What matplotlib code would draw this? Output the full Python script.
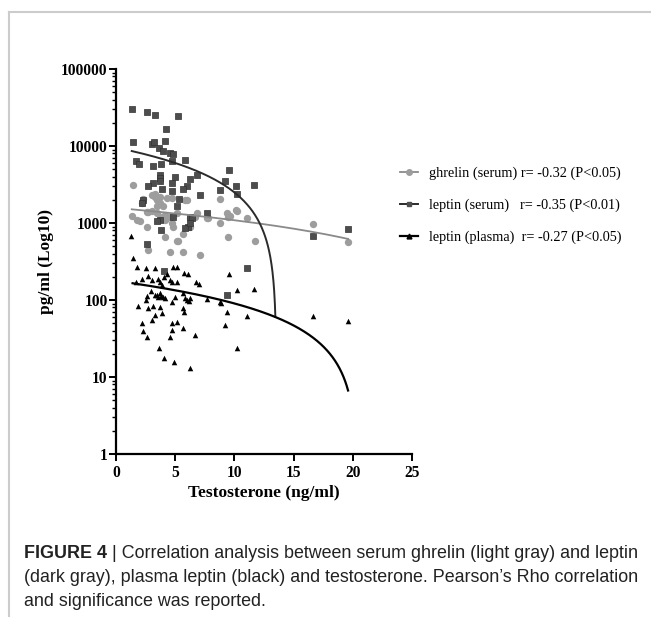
import numpy as np
import matplotlib.pyplot as plt
from matplotlib.lines import Line2D

# values (testosterone ng/ml, pg/ml)
ghrelin_x = [1.47, 1.33, 1.75, 2.03, 2.31, 2.17, 2.6, 2.73, 3.02, 3.3, 3.44, 2.6,
             3.02, 3.44, 3.72, 4.0, 3.86, 4.14, 4.14, 4.56, 4.7, 4.7, 4.85, 5.13,
             5.2, 5.69, 5.63, 5.83, 5.98, 6.26, 6.82, 6.68, 7.1, 7.66, 8.79, 8.79,
             9.44, 9.64, 9.44, 10.25, 11.1, 11.7, 16.6, 19.6, 3.3, 3.72, 4.28, 3.44,
             4.14, 4.56, 6.26, 7.8, 9.36, 10.14, 2.73, 5.18]
ghrelin_y = [3100, 1250, 1080, 1070, 2080, 1800, 890, 445, 2300, 2200, 2000, 1400,
             1450, 1340, 1800, 1650, 1200, 1080, 660, 420, 2100, 1000, 890, 1340,
             590, 420, 730, 1960, 2000, 890, 1340, 1200, 385, 1150, 2050, 1000,
             1200, 1250, 660, 1450, 1150, 590, 980, 570, 2400, 2200, 2100, 1650,
             1270, 1200, 1150, 1150, 1340, 1470, 1400, 590]

leptin_serum_x = [1.33, 2.6, 3.3, 5.2, 4.25, 1.47, 3.05, 3.24, 4.17, 3.63, 3.95, 4.56,
                  4.79, 5.8, 1.69, 1.92, 3.13, 3.8, 4.7, 9.58, 6.82, 6.26, 3.72, 3.72,
                  3.72, 4.99, 4.7, 9.19, 3.15, 2.73, 3.86, 5.98, 5.63, 10.14, 10.25,
                  11.67, 8.79, 4.76, 7.1, 5.36, 2.31, 2.2, 5.18, 7.66, 6.26, 3.72,
                  6.1, 5.83, 3.78, 2.65, 6.4, 6.26, 4.85, 3.44, 16.6, 19.6, 11.1,
                  9.41, 4.06]
leptin_serum_y = [30200, 27600, 25500, 24700, 16600, 11400, 10500, 11400, 11600, 9300,
                  8700, 8000, 7900, 6500, 6300, 5800, 5500, 5800, 6400, 4950, 4200,
                  3700, 4200, 3800, 3500, 3900, 3300, 3500, 3300, 3000, 2800, 3000,
                  2750, 3000, 2400, 3100, 2700, 2600, 2300, 2050, 2000, 1800, 1670,
                  1340, 1200, 1100, 890, 860, 810, 530, 1150, 1000, 1200, 1070, 680,
                  830, 260, 116, 240]

leptin_plasma_x = [1.24, 1.47, 1.75, 2.54, 3.3, 4.79, 5.13, 5.75, 6.1, 1.66, 2.17, 2.73,
                   3.02, 3.58, 4.06, 4.28, 4.56, 4.7, 5.13, 3.72, 3.86, 6.76, 7.04, 9.58,
                   10.2, 11.67, 2.6, 2.96, 3.3, 3.58, 3.72, 4.0, 4.14, 4.7, 4.99, 5.69,
                   5.83, 5.98, 6.26, 7.66, 8.79, 9.41, 9.21, 10.25, 11.1, 16.6, 19.6,
                   1.89, 2.54, 2.73, 3.15, 3.3, 3.72, 3.86, 2.17, 2.31, 2.6, 3.02, 4.7,
                   4.7, 4.56, 5.18, 5.63, 5.63, 5.77, 6.68, 3.64, 4.06, 4.9, 6.26, 3.5,
                   3.8, 6.2, 8.9]
leptin_plasma_y = [680, 350, 265, 260, 260, 265, 265, 226, 216, 173, 190, 205, 180, 190,
                   200, 215, 180, 173, 173, 173, 157, 173, 160, 216, 135, 137, 114, 131,
                   116, 110, 122, 110, 107, 95, 110, 122, 105, 100, 105, 103, 95, 69, 47,
                   23.6, 62, 62, 54, 83, 100, 78, 83, 63, 80, 67, 51, 40, 33, 55, 51, 41,
                   33, 52, 43, 78, 70, 35, 23.5, 17.8, 15.8, 13, 115, 112, 98, 92]

# linear fits (intercept, slope, x range) as drawn in the figure
ghrelin_fit = (1570, -48.4, 1.33, 19.6)
leptin_serum_fit = (9540, -704.3, 1.33, 13.46)
leptin_plasma_fit = (177.2, -8.7, 1.4, 19.6)

labels = ["ghrelin (serum) r= -0.32 (P<0.05)",
          "leptin (serum)   r= -0.35 (P<0.01)",
          "leptin (plasma)  r= -0.27 (P<0.05)"]

c_ghrelin = "#9d9d9d"
c_ghrelin_line = "#8a8a8a"
c_serum = "#4d4d4d"
c_serum_line = "#2b2b2b"
c_plasma = "#000000"

serif = ["Liberation Serif", "DejaVu Serif"]

fig = plt.figure(figsize=(6.51, 6.17), dpi=100)
ax = fig.add_axes([116 / 651, 163 / 617, 296 / 651, 385 / 617])

ax.scatter(ghrelin_x, ghrelin_y, s=28, marker="o", color=c_ghrelin, linewidths=0, zorder=2)
ax.scatter(leptin_serum_x, leptin_serum_y, s=13, marker="s", color=c_serum,
           edgecolors="#333333", linewidths=0.5, zorder=3)
ax.scatter(leptin_plasma_x, leptin_plasma_y, s=16, marker="^", color=c_plasma,
           linewidths=0, zorder=4)


def fit_line(fit, color, lw):
    a, b, x0, x1 = fit
    xs = np.linspace(x0, x1, 600)
    ax.plot(xs, a + b * xs, color=color, lw=lw, zorder=5)


fit_line(ghrelin_fit, c_ghrelin_line, 1.3)
fit_line(leptin_serum_fit, c_serum_line, 1.4)
fit_line(leptin_plasma_fit, c_plasma, 1.6)

ax.set_yscale("log")
ax.set_xlim(0, 25)
ax.set_ylim(1, 100000)
ax.set_xticks([0, 5, 10, 15, 20, 25])
ax.set_yticks([1, 10, 100, 1000, 10000, 100000])
ax.set_yticklabels(["1", "10", "100", "1000", "10000", "100000"])
ax.spines["top"].set_visible(False)
ax.spines["right"].set_visible(False)
for s in ["left", "bottom"]:
    ax.spines[s].set_linewidth(1.6)
ax.tick_params(which="major", length=5, width=1.4, direction="out")
ax.tick_params(which="minor", length=3, width=1.0, direction="out")
ax.tick_params(axis="x", which="minor", length=0)
for lab in ax.get_xticklabels() + ax.get_yticklabels():
    lab.set_fontfamily(serif)
    lab.set_fontweight("bold")
    lab.set_fontsize(11.2)
ax.tick_params(axis="y", pad=1)
ax.tick_params(axis="x", pad=3)

ax.set_xlabel("Testosterone (ng/ml)", fontfamily=serif, fontweight="bold", fontsize=12.5,
              labelpad=3)
ax.set_ylabel("pg/ml (Log10)", fontfamily=serif, fontweight="bold", fontsize=12.5,
              labelpad=5)

handles = [
    Line2D([], [], color=c_ghrelin_line, lw=1.3, marker="o", ms=4, mec=c_ghrelin, mfc=c_ghrelin),
    Line2D([], [], color=c_serum_line, lw=1.4, marker="s", ms=3, mec=c_serum, mfc=c_serum),
    Line2D([], [], color=c_plasma, lw=1.6, marker="^", ms=3.5, mec=c_plasma, mfc=c_plasma),
]
leg = ax.legend(handles, labels, loc="upper left", bbox_to_anchor=(400 / 651, (617 - 166.5) / 617),
                bbox_transform=fig.transFigure, frameon=False, borderpad=0, borderaxespad=0,
                handlelength=1.25, handletextpad=0.8, labelspacing=1.3, numpoints=1,
                prop={"family": serif, "size": 10.3})

# frame of the figure panel
fig.add_artist(Line2D([9 / 651, 1], [1 - 12 / 617, 1 - 12 / 617], transform=fig.transFigure,
                      color="#cccccc", lw=1.5))
fig.add_artist(Line2D([9 / 651, 9 / 651], [0, 1 - 12 / 617], transform=fig.transFigure,
                      color="#cccccc", lw=1.5))

# caption
cap_font = ["Liberation Sans", "DejaVu Sans"]
cap_size = 12.9
cap_color = "#222222"
head = fig.text(24 / 651, 1 - 554 / 617, "FIGURE 4", fontfamily=cap_font, fontweight="bold",
                fontsize=cap_size, va="center", color=cap_color)
renderer = fig.canvas.get_renderer()
bb = head.get_window_extent(renderer)
fig.text(bb.x1 / 651, 1 - 554 / 617,
         " | Correlation analysis between serum ghrelin (light gray) and leptin",
         fontfamily=cap_font, fontsize=cap_size, va="center", color=cap_color)
fig.text(24 / 651, 1 - 578 / 617,
         "(dark gray), plasma leptin (black) and testosterone. Pearson\u2019s Rho correlation",
         fontfamily=cap_font, fontsize=cap_size, va="center", color=cap_color)
fig.text(24 / 651, 1 - 602 / 617, "and significance was reported.",
         fontfamily=cap_font, fontsize=cap_size, va="center", color=cap_color)

fig.savefig("out.png", dpi=100)
